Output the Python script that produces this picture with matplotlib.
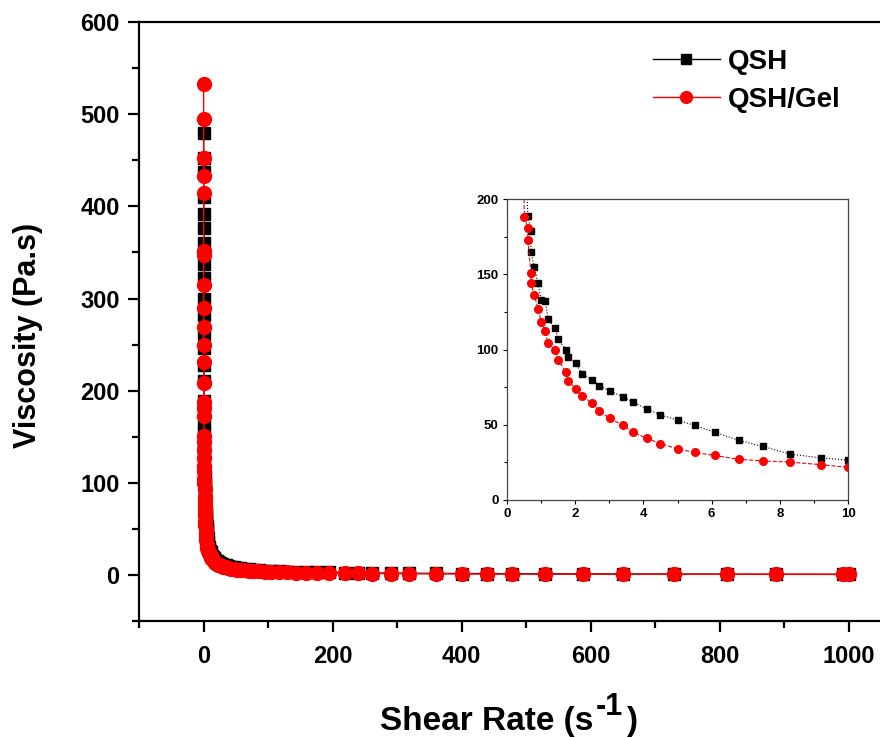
import matplotlib

matplotlib.use("Agg")

import matplotlib.pyplot as plt
from matplotlib.ticker import MultipleLocator

plt.rcParams["font.family"] = ["Liberation Sans", "DejaVu Sans"]
plt.rcParams["font.weight"] = "bold"

# --- QSH, shear rate (1/s) and viscosity (Pa.s) up to 10 1/s
rate_qsh_low = [
    0.15, 0.18, 0.21, 0.24, 0.27, 0.30, 0.33, 0.36, 0.39, 0.42, 0.45, 0.48, 0.51, 0.54, 0.58,
    0.61, 0.70, 0.70, 0.80, 0.91, 1.00, 1.12, 1.21, 1.41, 1.51, 1.72, 1.80, 2.01, 2.20,
    2.50, 2.71, 3.01, 3.40, 3.70, 4.10, 4.50, 5.00, 5.50, 6.10, 6.80, 7.50, 8.30, 9.20, 10.0,
]
visc_qsh_low = [
    480, 452, 437, 410, 392, 376, 360, 338, 322, 300, 282, 262, 246, 228, 210,
    188.5, 179, 165, 155, 144, 133, 132, 120, 114, 107, 100, 95, 91, 84,
    80, 76, 72.5, 68.6, 65, 60.4, 56.6, 53, 49.6, 45, 39.6, 35.6, 30.5, 28, 26.5,
]

# --- QSH/Gel up to 10 1/s
rate_gel_low = [
    0.13, 0.16, 0.19, 0.22, 0.25, 0.28, 0.31, 0.34, 0.37, 0.40, 0.43, 0.46, 0.49, 0.51,
    0.61, 0.61, 0.70, 0.70, 0.80, 0.91, 1.00, 1.10, 1.21, 1.41, 1.51, 1.72, 1.80, 2.01, 2.20,
    2.50, 2.71, 3.01, 3.40, 3.70, 4.10, 4.50, 5.00, 5.50, 6.10, 6.80, 7.50, 8.30, 9.20, 10.0,
]
visc_gel_low = [
    533, 495, 452, 433, 415, 352, 347, 315, 290, 269, 250, 231, 208, 188,
    181, 173, 151, 144, 136, 127, 118.6, 112.6, 104, 100, 93, 85, 79, 74, 69,
    64.6, 59, 54.4, 49.6, 45, 41, 37.4, 34, 31.6, 29.6, 27, 26, 25.2, 23.5, 21.7,
]

# --- high shear tail, same rates for both samples
rate_tail = [
    11.1, 12.3, 13.6, 15.1, 16.7, 18.5, 20.5, 22.7, 25.2, 27.9, 30.9, 34.2, 37.9,
    42.0, 46.5, 51.5, 57.1, 63.2, 70.0, 77.6, 86.0, 95.2,
    105, 117, 129, 143, 159, 176, 195,
    219, 239, 261, 290, 319, 360, 400, 439, 479, 530, 589, 650, 729, 811, 888, 991, 1001,
]
visc_qsh_tail = [
    24.5, 22.6, 21.0, 19.4, 18.0, 16.7, 15.4, 14.3, 13.2, 12.2, 11.3, 10.4, 9.6,
    8.9, 8.2, 7.6, 7.0, 6.5, 6.0, 5.5, 5.1, 4.7,
    4.3, 4.0, 3.7, 3.4, 3.1, 2.9, 2.7,
    2.4, 2.3, 2.1, 1.9, 1.8, 1.6, 1.5, 1.4, 1.3, 1.2, 1.1, 1.0, 0.9, 0.85, 0.8, 0.7, 0.7,
]
visc_gel_tail = [
    20.2, 18.6, 17.2, 15.8, 14.6, 13.4, 12.3, 11.3, 10.4, 9.6, 8.8, 8.1, 7.4,
    6.8, 6.3, 5.8, 5.3, 4.9, 4.5, 4.1, 3.8, 3.5,
    3.2, 2.9, 2.7, 2.5, 2.3, 2.1, 1.9,
    1.7, 1.6, 1.5, 1.4, 1.3, 1.2, 1.1, 1.0, 0.95, 0.9, 0.8, 0.75, 0.7, 0.65, 0.6, 0.55, 0.55,
]

x_qsh = rate_qsh_low + rate_tail
y_qsh = visc_qsh_low + visc_qsh_tail
x_gel = rate_gel_low + rate_tail
y_gel = visc_gel_low + visc_gel_tail

W, H = 880, 737
fig = plt.figure(figsize=(W / 100, H / 100), dpi=100)
ax = fig.add_axes([0.158, 0.1574, 0.8795, 0.8126])

ax.plot(x_qsh, y_qsh, color="black", lw=1, marker="s", ms=9, label="QSH")
ax.plot(x_gel, y_gel, color="red", lw=1, marker="o", ms=10, label="QSH/Gel")

ax.set_xlim(-100, 1100)
ax.set_ylim(-50, 600)
ax.set_xticks([0, 200, 400, 600, 800, 1000])
ax.xaxis.set_minor_locator(MultipleLocator(100))
ax.yaxis.set_major_locator(MultipleLocator(100))
ax.yaxis.set_minor_locator(MultipleLocator(50))
ax.tick_params(which="major", direction="out", length=8, width=1.6, labelsize=17)
ax.tick_params(axis="x", which="major", pad=9)
ax.tick_params(axis="y", which="major", pad=6)
ax.tick_params(which="minor", direction="out", length=5, width=1.6)
ax.spines["right"].set_visible(False)
for s in ("left", "bottom", "top"):
    ax.spines[s].set_linewidth(1.6)

ax.set_ylabel("Viscosity (Pa.s)", fontsize=22, fontweight="bold")
ax.yaxis.set_label_coords(-0.124, 0.4775)

# x label with a full-size superscript, built from pieces
renderer = fig.canvas.get_renderer()
base_y = 1 - 730 / H
t1 = fig.text(380 / W, base_y, "Shear Rate (s", fontsize=24, fontweight="bold",
              ha="left", va="baseline")
x1 = t1.get_window_extent(renderer).x1
t2 = fig.text(x1 / W + 0.003, base_y + 15 / H, "-1", fontsize=22, fontweight="bold",
              ha="left", va="baseline")
x2 = t2.get_window_extent(renderer).x1
fig.text(x2 / W + 0.003, base_y, ")", fontsize=24, fontweight="bold", ha="left",
         va="baseline")

ax.legend(loc="upper left", bbox_to_anchor=(628 / W, 1 - 24 / H),
          bbox_transform=fig.transFigure, frameon=False, fontsize=20,
          handlelength=2.4, labelspacing=0.42, handletextpad=0.3, markerscale=0.85)

# inset: zoom on low shear rates
axi = fig.add_axes([507 / W, 1 - 500 / H, 341 / W, 301 / H])
axi.plot(x_qsh, y_qsh, color="black", lw=0.8, ls=":", marker="s", ms=5)
axi.plot(x_gel, y_gel, color="#d01010", lw=0.8, ls="--", marker="o", ms=5.5,
         mfc="red", mec="red")
axi.set_xlim(0, 10)
axi.set_ylim(0, 200)
axi.xaxis.set_major_locator(MultipleLocator(2))
axi.xaxis.set_minor_locator(MultipleLocator(1))
axi.yaxis.set_major_locator(MultipleLocator(50))
axi.yaxis.set_minor_locator(MultipleLocator(25))
axi.tick_params(which="major", direction="out", length=3, width=0.8, labelsize=9.5, pad=3)
axi.tick_params(which="minor", direction="out", length=2, width=0.8)
for s in axi.spines.values():
    s.set_linewidth(0.9)
    s.set_color("#444444")

fig.savefig("out.png", dpi=100)
